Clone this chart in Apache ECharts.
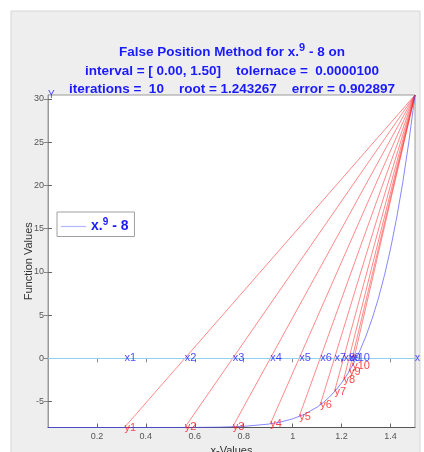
<!DOCTYPE html>
<html style="width:100%;height:100%">
<head>
    <meta charset="UTF-8">
    <title>False Position</title>
    <script type="text/javascript" src="https://cdn.jsdelivr.net/npm/echarts@6/dist/echarts.min.js"></script>
</head>
<body style="margin:0;width:100%;height:100%;overflow:hidden;background:#fff">
    <div id="main" style="width:424px;height:452px"></div>

    <script type="text/javascript">
        var myChart = echarts.init(document.getElementById('main'));

        // f(x) = x.^9 - 8 sampled along the interval
        var curveX = [0, 0.3, 0.5, 0.6, 0.7, 0.8, 0.9, 0.95, 1.0, 1.05, 1.1, 1.125, 1.15, 1.175, 1.2, 1.225, 1.25, 1.275, 1.3, 1.325, 1.35, 1.375, 1.4, 1.425, 1.45, 1.475, 1.5];
        var curveY = [-8, -8, -7.998, -7.990, -7.960, -7.866, -7.613, -7.370, -7, -6.449, -5.642, -5.114, -4.482, -3.731, -2.840, -1.788, -0.549, 0.905, 2.604, 4.587, 6.894, 9.567, 12.661, 16.228, 20.334, 25.05, 30.443];

        // iterates x1..x10 and f(xk)
        var iterX = [0.3122, 0.5594, 0.7550, 0.9088, 1.0266, 1.1124, 1.1707, 1.2078, 1.2302, 1.2433];
        var iterY = [-8.000, -7.995, -7.920, -7.577, -6.734, -5.392, -3.869, -2.530, -1.547, -0.903];
        var endX = 1.5, endY = 30.443;

        var xTicks = [0.2, 0.4, 0.6, 0.8, 1, 1.2, 1.4];
        var yTicks = [-5, 0, 5, 10, 15, 20, 25, 30];

        var font = 'Liberation Sans, Arial, sans-serif';
        var blue = '#1a1aff';

        var series = [];

        // x-axis line at y = 0
        series.push({
            type: 'line',
            data: [],
            silent: true,
            markLine: {
                silent: true,
                symbol: 'none',
                label: { show: false },
                lineStyle: { color: '#8fd3ea', width: 1, type: 'solid' },
                data: [{ yAxis: 0 }]
            }
        });

        // secant lines
        iterX.forEach(function (x, i) {
            series.push({
                type: 'line',
                data: [[x, iterY[i]], [endX, endY]],
                symbol: 'none',
                silent: true,
                lineStyle: { color: 'rgba(255,40,40,0.55)', width: 1 },
                z: 3
            });
        });

        // function curve
        series.push({
            name: 'x.^9 - 8',
            type: 'line',
            data: curveX.map(function (x, i) { return [x, curveY[i]]; }),
            symbol: 'none',
            lineStyle: { color: 'rgba(70,70,255,0.65)', width: 1 },
            itemStyle: { color: '#b4b4ff' },
            z: 4
        });

        // xk labels on the zero line
        series.push({
            type: 'scatter',
            symbolSize: 0,
            silent: true,
            data: iterX.map(function (x, i) { return { value: [x, 0], name: 'x' + (i + 1) }; }),
            label: {
                show: true, position: 'right', distance: 0,
                formatter: '{b}', color: blue, fontSize: 11, fontFamily: font
            },
            z: 6
        });

        // yk labels on the curve
        series.push({
            type: 'scatter',
            symbolSize: 0,
            silent: true,
            data: iterX.map(function (x, i) { return { value: [x, iterY[i]], name: 'y' + (i + 1) }; }),
            label: {
                show: true, position: 'right', distance: 0,
                formatter: '{b}', color: '#ff1a1a', fontSize: 11, fontFamily: font
            },
            z: 6
        });

        // axis letters X and Y
        series.push({
            type: 'scatter',
            symbolSize: 0,
            silent: true,
            data: [{ value: [endX, 0], name: 'x' }, { value: [0, endY], name: 'Y' }],
            label: {
                show: true, position: 'right', distance: 0,
                formatter: '{b}', color: blue, fontSize: 10, fontFamily: font
            },
            z: 6
        });

        var option = {
            backgroundColor: '#ffffff',
            animation: false,
            graphic: [{
                type: 'rect',
                shape: { x: 11, y: 11, width: 409, height: 460 },
                style: { fill: '#eeeeee', stroke: '#d6d6d6', lineWidth: 1 },
                z: -10
            }],
            title: {
                left: 227,
                textAlign: 'center',
                top: 37,
                text: '{t|False Position Method for x.}{s|9}{t| - 8 on}\n{t|interval = [ 0.00, 1.50]    tolernace =  0.0000100}\n{t|iterations =  10    root = 1.243267    error = 0.902897}',
                textStyle: {
                    rich: {
                        t: { fontSize: 13.5, fontWeight: 'bold', color: blue, fontFamily: font, lineHeight: 18.5 },
                        s: { fontSize: 11, fontWeight: 'bold', color: blue, fontFamily: font, padding: [0, 0, 9, 0] }
                    }
                }
            },
            legend: {
                left: 57,
                top: 212,
                orient: 'vertical',
                data: [{ name: 'x.^9 - 8', icon: 'rect' }],
                backgroundColor: '#ffffff',
                borderColor: '#a0a0a0',
                borderWidth: 1,
                borderRadius: 0,
                padding: [5, 6, 3, 4],
                itemWidth: 25,
                itemHeight: 1.2,
                itemGap: 0,
                formatter: function () { return '{t|x.}{s|9}{t| - 8}'; },
                textStyle: {
                    rich: {
                        t: { fontSize: 14, fontWeight: 'bold', color: blue, fontFamily: font },
                        s: { fontSize: 10, fontWeight: 'bold', color: blue, fontFamily: font, padding: [0, 0, 9, 0] }
                    }
                }
            },
            grid: {
                left: 48, top: 95, width: 367, height: 332.5,
                outerBoundsMode: 'none', containLabel: false,
                show: true, backgroundColor: '#ffffff', borderColor: '#9a9a9a', borderWidth: 1
            },
            xAxis: [{
                type: 'value', min: 0, max: 1.5,
                name: 'x-Values', nameLocation: 'middle', nameGap: 18, nameMoveOverlap: false,
                nameTextStyle: { color: '#333', fontSize: 11, fontFamily: font },
                axisLine: { show: true, onZero: false, lineStyle: { color: '#555' } },
                axisTick: { show: true, inside: true, length: 4, customValues: xTicks, lineStyle: { color: '#666' } },
                axisLabel: { customValues: xTicks, color: '#555', fontSize: 9, fontFamily: font, margin: 5 },
                splitLine: { show: false }
            }, {
                type: 'value', min: 0, max: 1.5, position: 'top',
                axisLine: { show: true, lineStyle: { color: '#9a9a9a' } },
                axisTick: { show: true, inside: true, length: 4, customValues: xTicks, lineStyle: { color: '#888' } },
                axisLabel: { show: false },
                splitLine: { show: false }
            }],
            yAxis: [{
                type: 'value', min: -8, max: endY,
                name: 'Function Values', nameLocation: 'middle', nameGap: 14, nameMoveOverlap: false,
                nameTextStyle: { color: '#333', fontSize: 11, fontFamily: font },
                axisLine: { show: true, onZero: false, lineStyle: { color: '#6f93a6' } },
                axisTick: { show: true, inside: true, length: 4, customValues: yTicks, lineStyle: { color: '#666' } },
                axisLabel: { customValues: yTicks, color: '#555', fontSize: 9, fontFamily: font, margin: 4 },
                splitLine: { show: false }
            }, {
                type: 'value', min: -8, max: endY, position: 'right',
                axisLine: { show: true, lineStyle: { color: '#9a9a9a' } },
                axisTick: { show: true, inside: true, length: 4, customValues: yTicks, lineStyle: { color: '#888' } },
                axisLabel: { show: false },
                splitLine: { show: false }
            }],
            series: series
        };

        myChart.setOption(option);
    </script>
</body>
</html>
